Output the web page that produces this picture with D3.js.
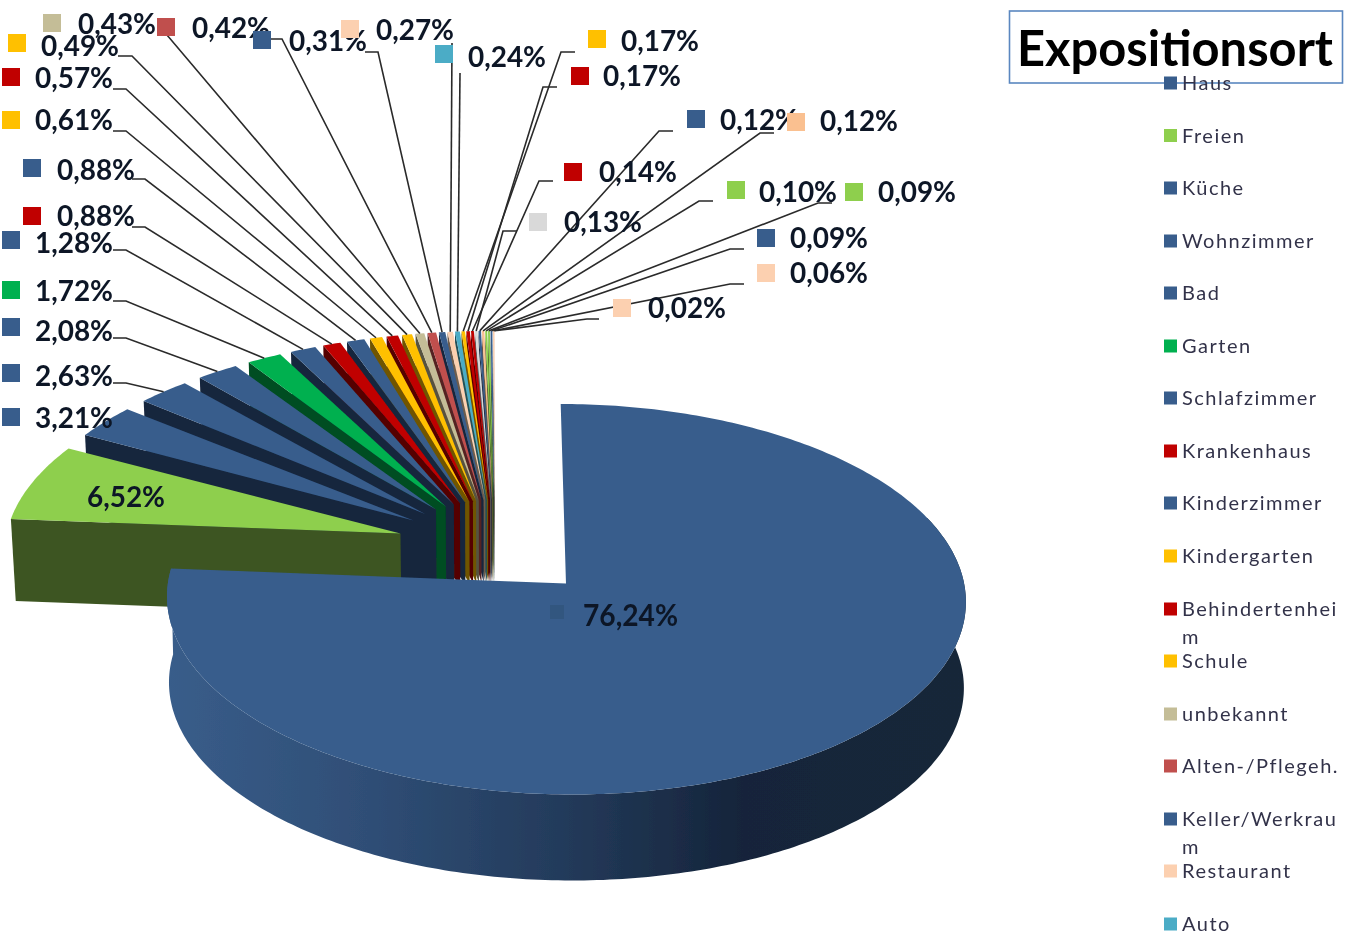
<!DOCTYPE html>
<html><head><meta charset="utf-8">
<script src="https://d3js.org/d3.v7.min.js"></script>
<style>html,body{margin:0;padding:0;background:#fff}svg{display:block}</style>
</head><body><svg id="c" width="1350" height="934"></svg>
<script>
// ---- data ----
const chartTitle = "Expositionsort";
const categories = ["Haus","Freien","Küche","Wohnzimmer","Bad","Garten","Schlafzimmer","Krankenhaus","Kinderzimmer","Kindergarten","Behindertenheim","Schule","unbekannt","Alten-/Pflegeh.","Keller/Werkraum","Restaurant","Auto"];
const values = [76.24,6.52,3.21,2.63,2.08,1.72,1.28,0.88,0.88,0.61,0.57,0.49,0.43,0.42,0.31,0.27,0.24,0.17,0.17,0.14,0.13,0.12,0.12,0.10,0.09,0.09,0.06,0.02];
const topColors = ["#375d8c","#8ecf4e","#375d8c","#375d8c","#375d8c","#00b04f","#375d8c","#c00000","#375d8c","#ffc000","#c00000","#ffc000","#c4bd97","#c0504d","#375d8c","#fcd0b0","#4bacc6","#ffc000","#c00000","#c00000","#d9d9d9","#375d8c","#fac090","#8ecf4e","#8ecf4e","#375d8c","#fcd0b0","#fcd0b0"];
const wallColors = ["#16263e","#3d5520","#16263e","#16263e","#16263e","#004d22","#16263e","#540000","#16263e","#6f5400","#540000","#6f5400","#565240","#542322","#16263e","#6e5b4c","#215059","#6f5400","#540000","#540000","#5f5f5f","#16263e","#6e5440","#3d5520","#3d5520","#16263e","#6e5b4c","#6e5b4c"];

// ---- layout of labels (same order as values): swatch s, text t, hook h = [x1,x2,y] ----
const placed = [
 {s:[550,605],t:[583,615]},{s:[54,488],t:[87,497]},{s:[2,408],t:[35,418]},
 {s:[2,364],t:[35,376],h:[113,126,383]},{s:[2,318],t:[35,331],h:[113,126,338]},{s:[2,281],t:[35,291],h:[113,126,301]},
 {s:[2,231],t:[35,243],h:[113,126,250]},{s:[23,207],t:[57,216],h:[132,145,227]},{s:[23,159],t:[57,170],h:[132,145,179]},
 {s:[2,111],t:[35,120],h:[113,126,131]},{s:[2,68],t:[35,78],h:[113,126,89]},{s:[8,34],t:[41,46],h:[118,132,56]},
 {s:[43,14],t:[78,24],h:[160,167,35]},{s:[157,18],t:[192,28],h:[271,282,39]},{s:[253,31],t:[289,41],h:[365,378,52]},
 {s:[341,20],t:[376,30],h:[452,452,43]},{s:[435,45],t:[468,57],h:[460,460,73]},
 {s:[588,30],t:[621,41],h:[575,561,52]},{s:[571,67],t:[603,76],h:[557,543,87]},{s:[564,163],t:[599,172],h:[553,539,181]},
 {s:[529,213],t:[564,222],h:[517,503,231]},{s:[687,110],t:[720,120],h:[673,659,131]},{s:[787,113],t:[820,121],h:[774,760,133]},
 {s:[727,181],t:[759,192],h:[713,699,201]},{s:[845,183],t:[878,192],h:[832,818,203]},{s:[757,229],t:[790,238],h:[744,730,249]},
 {s:[757,264],t:[790,273],h:[744,730,284]},{s:[613,299],t:[648,308],h:[599,587,319]}
];
const legendY = [83,135.5,188,241,293,346,398,451,503,556,609,661,714,766,819,871,924];

// ---- geometry ----
const svg = d3.select("#c");
const defs = svg.append("defs");
defs.append("filter").attr("id","soft").attr("x","-5%").attr("y","-5%").attr("width","110%").attr("height","110%")
  .append("feGaussianBlur").attr("stdDeviation",0.55);
const grad = defs.append("linearGradient").attr("id","wall").attr("gradientUnits","userSpaceOnUse")
  .attr("x1",168).attr("x2",968).attr("y1",0).attr("y2",0);
[[0,"#395d8a"],[0.25,"#2f4e76"],[0.5,"#233a5a"],[0.72,"#15243a"],[1,"#172739"]].forEach(s=>grad.append("stop").attr("offset",s[0]).attr("stop-color",s[1]));

const root = svg.append("g").attr("filter","url(#soft)");
const xS = d3.scaleLinear().domain([0,1]).range([495,891]);
const yS = d3.scaleLinear().domain([0,1]).range([546.7,736.7]);
const persp = 0.08, explode = 0.25, depth = 82, shrink = 0.99, narrow = 0.9;
const bigExplode = 0.26, bigRadius = 0.99, bigDepth = 86, bigShrink = 0.995;
const project = (u,v)=>{const w=1-persp*v; return [xS(u/w),yS(v/w)];};
const pie = d3.pie().sort(null).value(d=>d)(values);
const line = d3.line();
const slices = pie.map((p,i)=>{
  const m=(p.startAngle+p.endAngle)/2;
  const e=i===0?bigExplode:explode, r=i===0?bigRadius:1, f=i<2?1:narrow;
  const ou=e*Math.sin(m), ov=-e*Math.cos(m);
  const rim = a=>project(ou+r*Math.sin(a),ov-r*Math.cos(a));
  const a0=m+(p.startAngle-m)*f, a1=m+(p.endAngle-m)*f;
  const n=Math.max(2,Math.ceil((a1-a0)/0.015));
  const angles=d3.range(n+1).map(k=>a0+(a1-a0)*k/n);
  return {i,m,tip:project(ou,ov),angles,arc:angles.map(rim),mid:rim(m),start:rim(a0)};
});
const drop = (pt,cx,d,k)=>[cx+(pt[0]-cx)*k,pt[1]+d];

// small exploded slices, back to front
d3.range(values.length-1,0,-1).forEach(i=>{
  const s=slices[i];
  root.append("path").attr("d",line([s.start,s.tip,drop(s.tip,495,depth,shrink),drop(s.start,495,depth,shrink)])+"Z").attr("fill",wallColors[i]);
  root.append("path").attr("d",line([s.tip,...s.arc])+"Z").attr("fill",topColors[i]);
});
// large slice: only the front of the rim carries a visible wall
const big=slices[0];
const front=big.arc.filter((p,k)=>big.angles[k]>1.2);
root.append("path").attr("d",line([...front,...front.map(p=>drop(p,565,bigDepth,bigShrink)).reverse()])+"Z").attr("fill","url(#wall)");
root.append("path").attr("d",line([big.tip,...big.arc])+"Z").attr("fill",topColors[0]);

// leader lines
placed.forEach((l,i)=>{
  if(!l.h) return;
  const [x1,x2,y]=l.h;
  root.append("path").attr("d",line([[x1,y],[x2,y],slices[i].mid])).attr("fill","none").attr("stroke","#2a2a2a").attr("stroke-width",1.6);
});
// value labels
const valueText = values.map(v=>v.toFixed(2).replace(".",",")+"%");
placed.forEach((l,i)=>{
  const lead=i<2;
  root.append("rect").attr("x",l.s[0]).attr("y",l.s[1]).attr("width",lead?14:18).attr("height",lead?14:18)
    .attr("fill",i===0?"#33567f":topColors[i]);
  root.append("text").attr("x",l.t[0]).attr("y",l.t[1]).attr("dy","0.36em").text(valueText[i])
    .attr("font-family","Lato").attr("font-weight",700).attr("font-size",i===0?30:29).attr("fill","#0b1626")
    .attr("textLength",i===0?95:78).attr("lengthAdjust","spacingAndGlyphs");
});
// title
root.append("rect").attr("x",1009.5).attr("y",11).attr("width",333).attr("height",72).attr("fill","none").attr("stroke","#5a87c0").attr("stroke-width",1.6);
root.append("text").attr("x",1017).attr("y",48).attr("dy","0.36em").text(chartTitle)
  .attr("font-family","Lato").attr("font-weight",700).attr("font-size",49).attr("fill","#000")
  .attr("textLength",316).attr("lengthAdjust","spacingAndGlyphs");
// legend: names wrap when they outrun the column
const legendFont = t=>t.attr("font-family","Lato").attr("font-size",20).attr("letter-spacing",1.5).attr("fill","#33334a");
categories.forEach((name,i)=>{
  root.append("rect").attr("x",1164).attr("y",legendY[i]-6.5).attr("width",13).attr("height",13).attr("fill",topColors[i]);
  const t=root.append("text").attr("x",1182).attr("y",legendY[i]).attr("dy","0.36em").call(legendFont).text(name);
  let cut=name.length;
  while(t.node().getComputedTextLength()>164 && cut>1){cut--; t.text(name.slice(0,cut));}
  if(cut<name.length) root.append("text").attr("x",1182).attr("y",legendY[i]+28).attr("dy","0.36em").call(legendFont).text(name.slice(cut));
});
</script></body></html>
